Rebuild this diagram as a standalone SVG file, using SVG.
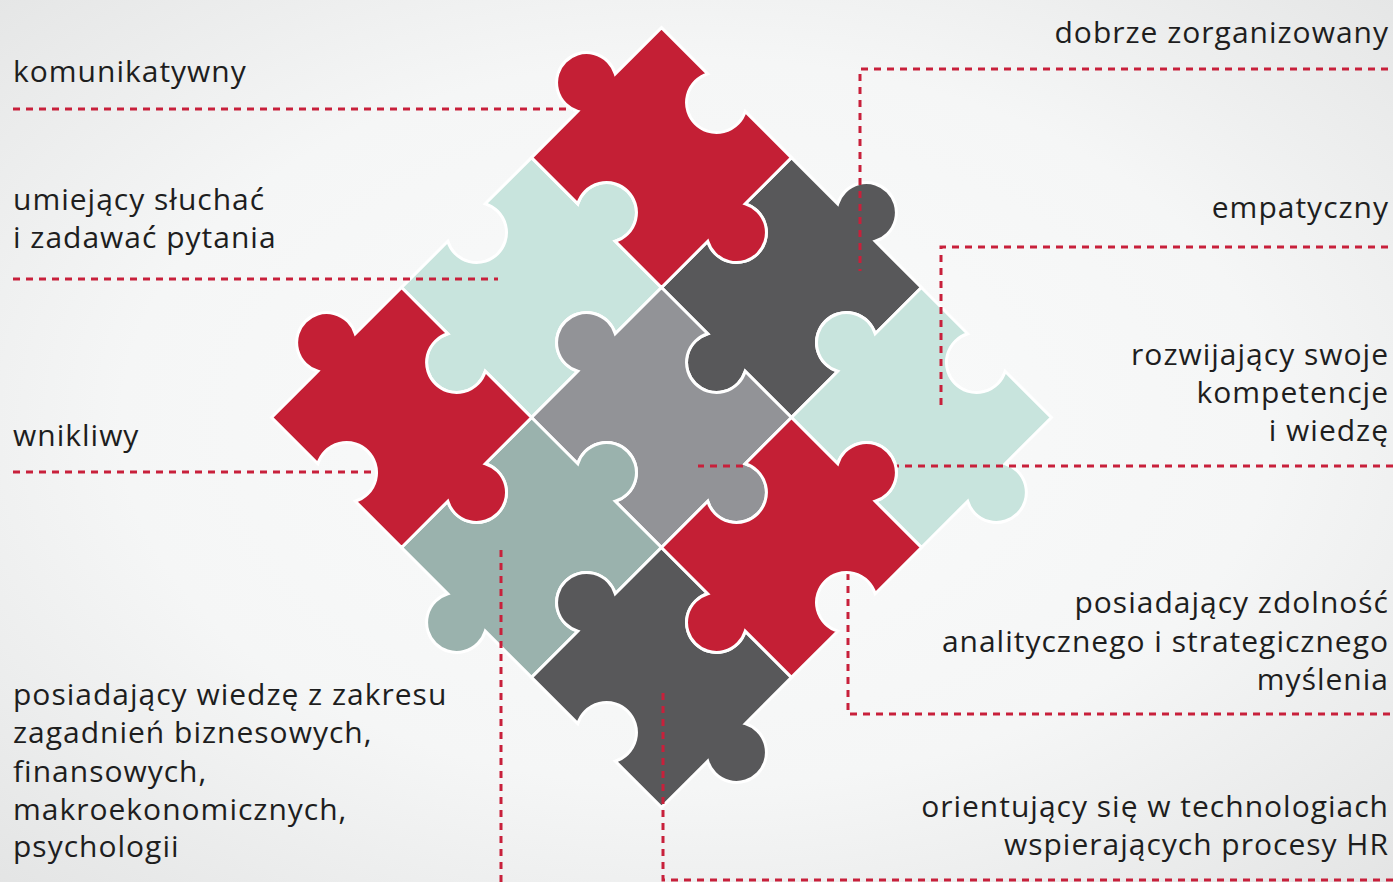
<svg xmlns="http://www.w3.org/2000/svg" xmlns:xlink="http://www.w3.org/1999/xlink" width="1393" height="882" viewBox="0 0 1393 882">
<defs>
<radialGradient id="bg" cx="50%" cy="48%" r="75%">
<stop offset="0" stop-color="#fafbfb"/>
<stop offset="0.55" stop-color="#f5f6f6"/>
<stop offset="1" stop-color="#e2e3e3"/>
</radialGradient>
<path id="pa" d="M-91.9,-91.9 L-26.5,-91.9 A30,30 0 1 0 26.5,-91.9 L91.9,-91.9 L91.9,-26.5 A30,30 0 1 1 91.9,26.5 L91.9,91.9 L26.5,91.9 A30,30 0 1 0 -26.5,91.9 L-91.9,91.9 L-91.9,26.5 A30,30 0 1 1 -91.9,-26.5 Z"/>
<path id="pb" d="M-91.9,-91.9 L-26.5,-91.9 A30,30 0 1 1 26.5,-91.9 L91.9,-91.9 L91.9,-26.5 A30,30 0 1 0 91.9,26.5 L91.9,91.9 L26.5,91.9 A30,30 0 1 1 -26.5,91.9 L-91.9,91.9 L-91.9,26.5 A30,30 0 1 0 -91.9,-26.5 Z"/>
</defs>
<style>
.p{stroke:#ffffff;stroke-width:3;stroke-linejoin:miter}
.red{fill:#c41f35}
.mint{fill:#c8e4dd}
.dg{fill:#58585a}
.gr{fill:#929397}
.gg{fill:#9ab2ad}
.d{fill:none;stroke:#c8203b;stroke-width:3;stroke-dasharray:7 6}
.t{font-family:"Open Sans","Noto Sans","DejaVu Sans",sans-serif;font-size:30px;letter-spacing:1px;fill:#1e1e1e}
.r{text-anchor:end}
</style>
<rect x="0" y="0" width="1393" height="882" fill="url(#bg)"/>

<g id="puzzle-back" transform="translate(661.5,417.5) rotate(45)">
<g id="piece-mint-upper"><use xlink:href="#pb" href="#pb" class="p mint" transform="translate(-183.8,0)"/></g>
<g id="piece-darkgray-upper"><use xlink:href="#pb" href="#pb" class="p dg" transform="translate(0,-183.8)"/></g>
<g id="piece-mint-right"><use xlink:href="#pa" href="#pa" class="p mint" transform="translate(183.8,-183.8)"/></g>
<g id="piece-gray-center"><use xlink:href="#pa" href="#pa" class="p gr" transform="translate(0,0)"/></g>
<g id="piece-graygreen"><use xlink:href="#pb" href="#pb" class="p gg" transform="translate(0,183.8)"/></g>
<g id="piece-darkgray-bottom"><use xlink:href="#pa" href="#pa" class="p dg" transform="translate(183.8,183.8)"/></g>
</g>

<g id="connectors">
<path class="d" d="M13,109 H578"/>
<path class="d" d="M13,279 H498"/>
<path class="d" d="M13,472 H382"/>
<path class="d" d="M501,550 V882"/>
<path class="d" d="M1388,69 H860 V271"/>
<path class="d" d="M1388,247 H941 V409"/>
<path class="d" d="M1393,466 H698"/>
<path class="d" d="M1390,714 H848 V566"/>
<path class="d" d="M1393,880 H663 V690"/>
</g>

<g id="puzzle-front" transform="translate(661.5,417.5) rotate(45)">
<g id="piece-red-top"><use xlink:href="#pa" href="#pa" class="p red" transform="translate(-183.8,-183.8)"/></g>
<g id="piece-red-left"><use xlink:href="#pa" href="#pa" class="p red" transform="translate(-183.8,183.8)"/></g>
<g id="piece-red-lower"><use xlink:href="#pb" href="#pb" class="p red" transform="translate(183.8,0)"/></g>
</g>

<g id="labels">
<g id="label-komunikatywny"><text class="t" x="13" y="82">komunikatywny</text></g>
<g id="label-umiejacy"><text class="t" x="13" y="210">umiejący słuchać</text><text class="t" x="13" y="248">i zadawać pytania</text></g>
<g id="label-wnikliwy"><text class="t" x="13" y="446">wnikliwy</text></g>
<g id="label-wiedza">
<text class="t" x="13" y="705">posiadający wiedzę z zakresu</text>
<text class="t" x="13" y="743">zagadnień biznesowych,</text>
<text class="t" x="13" y="782">finansowych,</text>
<text class="t" x="13" y="820">makroekonomicznych,</text>
<text class="t" x="13" y="857">psychologii</text>
</g>
<g id="label-dobrze"><text class="t r" x="1389" y="43">dobrze zorganizowany</text></g>
<g id="label-empatyczny"><text class="t r" x="1389" y="218">empatyczny</text></g>
<g id="label-rozwijajacy">
<text class="t r" x="1389" y="365">rozwijający swoje</text>
<text class="t r" x="1389" y="403">kompetencje</text>
<text class="t r" x="1389" y="441">i wiedzę</text>
</g>
<g id="label-analityczny">
<text class="t r" x="1389" y="613">posiadający zdolność</text>
<text class="t r" x="1389" y="652">analitycznego i strategicznego</text>
<text class="t r" x="1389" y="690">myślenia</text>
</g>
<g id="label-technologie">
<text class="t r" x="1389" y="817">orientujący się w technologiach</text>
<text class="t r" x="1389" y="855">wspierających procesy HR</text>
</g>
</g>
</svg>
